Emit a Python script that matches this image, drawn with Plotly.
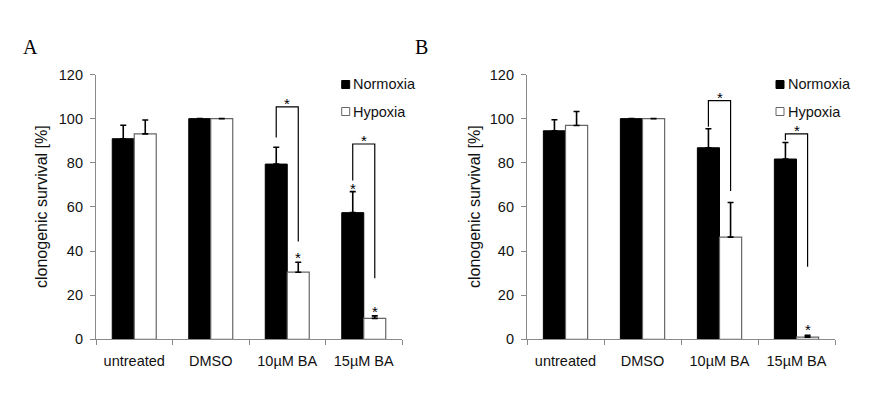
import plotly.graph_objects as go

categories = ["untreated", "DMSO", "10µM BA", "15µM BA"]

# Panel A
a_normoxia = [90.9, 100.0, 79.4, 57.4]
a_normoxia_err = [6.1, 0.0, 7.6, 9.5]
a_hypoxia = [93.1, 100.0, 30.4, 9.5]
a_hypoxia_err = [6.3, 0.0, 4.5, 1.1]

# Panel B
b_normoxia = [94.5, 100.0, 86.8, 81.7]
b_normoxia_err = [5.0, 0.0, 8.6, 7.5]
b_hypoxia = [96.9, 100.0, 46.3, 1.0]
b_hypoxia_err = [6.3, 0.0, 15.7, 0.8]

# brackets: (category index, left bottom, top, right bottom)
a_brackets = [(2, 91.5, 105.3, 44.3), (3, 72.0, 88.5, 27.7)]
b_brackets = [(2, 96.3, 108.2, 67.2), (3, 90.2, 93.1, 32.9)]
# stars: (x in category units, y value)
a_stars = [(2, 108.7), (3, 91.8), (2.144, 38.7), (2.856, 70.0), (3.144, 14.5)]
b_stars = [(2, 111.4), (3, 96.3), (3.144, 6.2)]

W, H = 872, 400
FONT = "Liberation Sans, Arial, sans-serif"
OFF = 0.144

def px_x(p):
    return p / W

def px_y(p):
    return 1 - p / H

fig = go.Figure()

panels = [
    ("x", "y", a_normoxia, a_normoxia_err, a_hypoxia, a_hypoxia_err),
    ("x2", "y2", b_normoxia, b_normoxia_err, b_hypoxia, b_hypoxia_err),
]
for xa, ya, nv, ne, hv, he in panels:
    fig.add_trace(go.Bar(
        x=categories, y=nv, xaxis=xa, yaxis=ya, name="Normoxia",
        marker=dict(color="black", line=dict(color="black", width=1)),
        error_y=dict(type="data", symmetric=False, array=ne, arrayminus=[0]*4,
                     color="black", thickness=1.6, width=3),
        showlegend=False,
    ))
    fig.add_trace(go.Bar(
        x=categories, y=hv, xaxis=xa, yaxis=ya, name="Hypoxia",
        marker=dict(color="white", line=dict(color="#666666", width=1.2)),
        error_y=dict(type="data", symmetric=False, array=he, arrayminus=[0]*4,
                     color="black", thickness=1.6, width=3),
        showlegend=False,
    ))

axis_common_x = dict(
    type="category", tickson="boundaries", showline=True, linecolor="#8a8a8a",
    linewidth=1.2, ticks="outside", ticklen=5, tickcolor="#8a8a8a",
    tickfont=dict(family=FONT, size=14.5, color="#111"), showgrid=False,
    ticklabelstandoff=8, fixedrange=True, automargin=False,
)
axis_common_y = dict(
    range=[0, 120], tickvals=[0, 20, 40, 60, 80, 100, 120], showline=True,
    linecolor="#8a8a8a", linewidth=1.2, ticks="outside", ticklen=5,
    tickcolor="#8a8a8a", tickfont=dict(family=FONT, size=14.5, color="#111"),
    showgrid=False, zeroline=False, ticklabelstandoff=4, fixedrange=True,
    automargin=False,
)
ydom = [px_y(339.3), px_y(74.5)]
fig.update_layout(
    width=W, height=H, margin=dict(l=0, r=0, t=0, b=0, pad=0, autoexpand=False),
    paper_bgcolor="white", plot_bgcolor="white", showlegend=False,
    barmode="group", bargap=0.425, bargroupgap=0,
    xaxis=dict(domain=[px_x(96), px_x(402)], anchor="y", **axis_common_x),
    yaxis=dict(domain=ydom, anchor="x", **axis_common_y),
    xaxis2=dict(domain=[px_x(527), px_x(835)], anchor="y2", **axis_common_x),
    yaxis2=dict(domain=ydom, anchor="x2", **axis_common_y),
)

shapes = []
annotations = []
for (xr, yr, brackets, stars) in [("x", "y", a_brackets, a_stars), ("x2", "y2", b_brackets, b_stars)]:
    for c, lb, top, rb in brackets:
        xl, xrr = c - OFF, c + OFF
        path = f"M {xl},{lb} L {xl},{top} L {xrr},{top} L {xrr},{rb}"
        shapes.append(dict(type="path", path=path, xref=xr, yref=yr,
                           line=dict(color="black", width=1.2)))
    for sx, sy in stars:
        annotations.append(dict(x=sx, y=sy - 1.8, xref=xr, yref=yr, text="*",
                                showarrow=False, yanchor="middle",
                                font=dict(family=FONT, size=15, color="black")))

# axis titles
for cx in [42, 475]:
    annotations.append(dict(x=px_x(cx), y=px_y(207), xref="paper", yref="paper",
                            text="clonogenic survival [%]", textangle=-90,
                            showarrow=False, xanchor="center", yanchor="middle",
                            font=dict(family=FONT, size=16, color="#111")))

# panel letters
for letter, lx in [("A", 30), ("B", 421.7)]:
    annotations.append(dict(x=px_x(lx), y=px_y(47), xref="paper", yref="paper",
                            text=letter, showarrow=False, xanchor="center",
                            yanchor="middle",
                            font=dict(family="Liberation Serif, Times New Roman, serif",
                                      size=20, color="black")))

# legends
for sqx in [341.7, 776.0]:
    for label, cy, fill, edge in [("Normoxia", 84.5, "black", "black"),
                                  ("Hypoxia", 111.5, "white", "#666666")]:
        shapes.append(dict(type="rect", xref="paper", yref="paper",
                           x0=px_x(sqx), x1=px_x(sqx + 8),
                           y0=px_y(cy + 4), y1=px_y(cy - 4),
                           fillcolor=fill, line=dict(color=edge, width=1)))
        annotations.append(dict(x=px_x(sqx + 9.5), y=px_y(cy), xref="paper",
                                yref="paper", text=label, showarrow=False,
                                xanchor="left", yanchor="middle",
                                font=dict(family=FONT, size=14.5, color="#111")))

fig.update_layout(shapes=shapes, annotations=annotations)
fig.write_html("out.html", config={"displayModeBar": False},
               post_script="document.body.style.margin='0';")
